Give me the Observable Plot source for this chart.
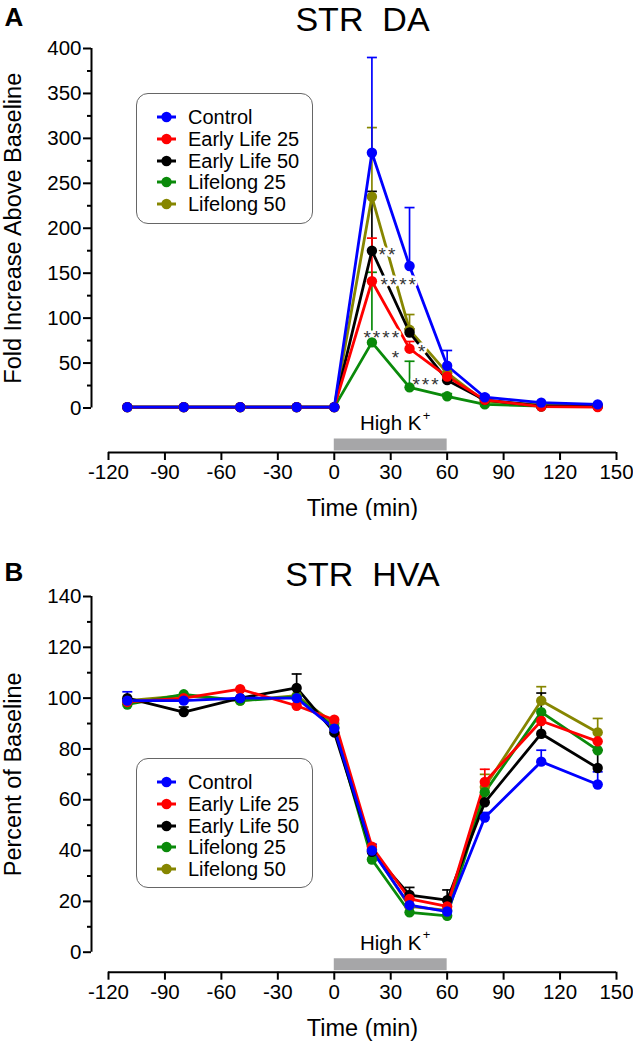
<!DOCTYPE html>
<html><head><meta charset="utf-8">
<script src="https://cdn.jsdelivr.net/npm/d3@7"></script>
<script src="https://cdn.jsdelivr.net/npm/@observablehq/plot@0.6"></script>
<style>
body{margin:0;background:#fff;font-family:"Liberation Sans",Arial,Helvetica,sans-serif;}
.panel{position:relative;width:633px;overflow:hidden;}
.legend{position:absolute;border:1.6px solid #666;border-radius:12px;box-sizing:border-box;background:#fff;}
.legend .item{position:absolute;left:0;height:22px;width:100%;font-size:20px;line-height:22px;color:#000;}
.legend .item svg{position:absolute;left:19px;top:5px;}
.legend .item span{position:absolute;left:51px;top:0;white-space:nowrap;}
</style></head><body>
<div id="chart"></div>
<script>
const times = [-110, -80, -50, -20, 0, 20, 40, 60, 80, 110, 140];
const groups = ["Control", "Early Life 25", "Early Life 50", "Lifelong 25", "Lifelong 50"];
const colors = ["#0000ff", "#ff0000", "#000000", "#0a8a0a", "#868600"];
const xTicks = [-120, -90, -60, -30, 0, 30, 60, 90, 120, 150];
const stimulus = [0, 60];
const stimulusLabel = "High K";

// Panel A: STR DA, fold increase above baseline
const daControl = [1, 1, 1, 1, 1, 284, 158, 47, 12, 6, 4];
const daEarly25 = [1, 1, 1, 1, 1, 141, 66, 35, 9, 1.5, 1];
const daEarly50 = [1, 1, 1, 1, 1, 175, 84, 31, 9, 2, 2];
const daLife25  = [1, 1, 1, 1, 1, 73, 23, 13, 4, 2, 2];
const daLife50  = [1, 1, 1, 1, 1, 235, 87, 39, 7, 4, 3];
const daErrControl = [0, 0, 0, 0, 0, 106, 65, 17, 2, 1, 1];
const daErrEarly25 = [0, 0, 0, 0, 0, 48, 8, 4, 1, 0, 0];
const daErrEarly50 = [0, 0, 0, 0, 0, 66, 4, 5, 1, 0, 0];
const daErrLife25  = [0, 0, 0, 0, 0, 78, 29, 3, 1, 0, 0];
const daErrLife50  = [0, 0, 0, 0, 0, 77, 17, 4, 1, 0, 0];
const daYTicks = [0, 50, 100, 150, 200, 250, 300, 350, 400];
const daYMinor = [25, 75, 125, 175, 225, 275, 325, 375];
const daStars = [
  {t: 28.5, v: 176, s: "**"},
  {t: 34.5, v: 142, s: "****"},
  {t: 25.5, v: 84, s: "****"},
  {t: 33, v: 61, s: "*"},
  {t: 47, v: 68, s: "*"},
  {t: 49, v: 31, s: "***"}
];

// Panel B: STR HVA, percent of baseline
const hvaControl = [99, 99, 100, 100, 88, 40, 18.5, 16, 53, 75, 66];
const hvaEarly25 = [98.5, 100, 103.5, 97, 91.5, 41.5, 21, 18, 67, 91, 83];
const hvaEarly50 = [100, 94.5, 100, 104, 86.5, 39.5, 22.5, 20.5, 59, 86, 72.5];
const hvaLife25  = [97.5, 101.5, 99, 100.5, 88.5, 36.5, 15.7, 14.3, 63, 94.5, 79.5];
const hvaLife50  = [99, 101, 99, 101, 90, 40.5, 18, 16.5, 65, 99, 86.5];
const hvaErrControl = [3.5, 1, 1, 1, 1, 2.5, 1, 1, 2, 4.5, 5];
const hvaErrEarly25 = [1, 1, 1, 1, 1, 1, 1, 1, 5, 1, 1];
const hvaErrEarly50 = [1, 2, 1, 5.5, 1, 1, 3, 4, 1, 16, 7];
const hvaErrLife25  = [1, 1, 1, 1, 1, 1, 1, 1, 1, 1, 1];
const hvaErrLife50  = [1, 1, 1, 1, 1, 1, 1, 1, 5, 5.5, 5.5];
const hvaYTicks = [0, 20, 40, 60, 80, 100, 120, 140];
const hvaYMinor = [10, 30, 50, 70, 90, 110, 130];

const FONT = '"Liberation Sans", Arial, Helvetica, sans-serif';
const capSymbol = {draw(ctx, size) { const r = Math.sqrt(size / Math.PI); ctx.moveTo(-r, 0); ctx.lineTo(r, 0); }};

function buildPanel(cfg) {
  const drawOrder = [4, 3, 2, 1, 0];
  const seriesMarks = [];
  for (const gi of drawOrder) {
    const rows = times.map((t, i) => ({t, v: cfg.values[gi][i], e: cfg.errs[gi][i]}));
    const errRows = rows.filter(d => d.e >= 1.5);
    seriesMarks.push(
      Plot.ruleX(errRows, {x: "t", y1: "v", y2: d => d.v + d.e, stroke: colors[gi], strokeWidth: 1.7}),
      Plot.dot(errRows, {x: "t", y: d => d.v + d.e, symbol: capSymbol, r: 5, stroke: colors[gi], strokeWidth: 1.7, fill: "none"})
    );
  }
  const lineMarks = [];
  const dotMarks = [];
  for (const gi of drawOrder) {
    const rows = times.map((t, i) => ({t, v: cfg.values[gi][i]}));
    lineMarks.push(Plot.line(rows, {x: "t", y: "v", stroke: colors[gi], strokeWidth: 2.8}));
    dotMarks.push(Plot.dot(rows, {x: "t", y: "v", fill: colors[gi], r: 5.2, stroke: "none"}));
  }
  const y0 = cfg.yDomain[0], y1 = cfg.yDomain[1];
  const plot = Plot.plot({
    width: 633, height: cfg.height,
    marginTop: cfg.marginTop, marginBottom: cfg.marginBottom, marginLeft: 108, marginRight: 17,
    x: {domain: [-120, 150]},
    y: {domain: cfg.yDomain},
    style: {fontFamily: FONT, color: "#000", background: "#fff", overflow: "visible"},
    marks: [
      Plot.ruleX([-120], {y1: () => y0, y2: () => y1, dx: -17, strokeWidth: 2, stroke: "#000"}),
      Plot.axisY(cfg.yTicks, {anchor: "left", tickSize: 8, tickPadding: 2, dx: -17, fontSize: 20.5, tickFormat: d => String(d), label: null, strokeWidth: 2}),
      Plot.axisY(cfg.yMinor, {anchor: "left", tickSize: 4, dx: -17, tickFormat: () => "", label: null, strokeWidth: 2}),
      Plot.ruleY([y0], {x1: () => -120, x2: () => 150, dy: cfg.xAxisDy, strokeWidth: 2, stroke: "#000"}),
      Plot.axisX(xTicks, {anchor: "bottom", tickSize: 8, tickPadding: 4, dy: cfg.xAxisDy, fontSize: 20.5, tickFormat: d => String(d), label: null, strokeWidth: 2}),
      Plot.ruleY([y0], {x1: () => stimulus[0], x2: () => stimulus[1], dy: cfg.xAxisDy - 8, strokeWidth: 12, stroke: "#a6a6a8"}),
      Plot.text([stimulusLabel], {x: () => (stimulus[0] + stimulus[1]) / 2, y: () => y0, dy: cfg.xAxisDy - 29, fontSize: 20.5}),
      Plot.text(["+"], {x: () => (stimulus[0] + stimulus[1]) / 2, y: () => y0, dx: 32, dy: cfg.xAxisDy - 37, fontSize: 13, textAnchor: "start"}),
      Plot.text(["Time (min)"], {frameAnchor: "bottom", lineAnchor: "middle", textAnchor: "middle", dy: cfg.xAxisDy + 56, fontSize: 23.5}),
      Plot.text([cfg.ylabel], {frameAnchor: "left", textAnchor: "middle", lineAnchor: "middle", dx: -95, rotate: -90, fontSize: 23.5}),
      Plot.text([cfg.title], {frameAnchor: "top", lineAnchor: "middle", textAnchor: "middle", dy: cfg.titleDy, fontSize: 34}),
      Plot.text([cfg.letter], {frameAnchor: "top-left", dx: -104, dy: cfg.letterDy, textAnchor: "start", lineAnchor: "middle", fontSize: 26, fontWeight: "bold"}),
      ...seriesMarks,
      ...lineMarks,
      Plot.text(cfg.stars || [], {x: "t", y: "v", text: "s", dy: 5, fontSize: 19, fill: "#333", stroke: "#fff", strokeWidth: 5, paintOrder: "stroke"}),
      ...dotMarks
    ]
  });
  d3.select(plot).selectAll("text").filter(function() { return /^\*+$/.test(this.textContent); }).style("letter-spacing", "2px");
  return plot;
}

function buildLegend(left, top, width, height) {
  const box = document.createElement("div");
  box.className = "legend";
  Object.assign(box.style, {left: left + "px", top: top + "px", width: width + "px", height: height + "px"});
  groups.forEach((g, i) => {
    const item = document.createElement("div");
    item.className = "item";
    item.style.top = (12 + i * 21.8) + "px";
    const svg = d3.create("svg").attr("width", 22).attr("height", 12);
    svg.append("line").attr("x1", 1).attr("x2", 20).attr("y1", 6).attr("y2", 6).attr("stroke", colors[i]).attr("stroke-width", 3);
    svg.append("circle").attr("cx", 10.5).attr("cy", 6).attr("r", 5.2).attr("fill", colors[i]);
    item.appendChild(svg.node());
    const span = document.createElement("span");
    span.textContent = g;
    item.appendChild(span);
    box.appendChild(item);
  });
  return box;
}

const chart = document.getElementById("chart");

const panelA = document.createElement("div");
panelA.className = "panel"; panelA.style.height = "520px";
panelA.appendChild(buildPanel({
  values: [daControl, daEarly25, daEarly50, daLife25, daLife50],
  errs: [daErrControl, daErrEarly25, daErrEarly50, daErrLife25, daErrLife50],
  yDomain: [0, 400], yTicks: daYTicks, yMinor: daYMinor,
  height: 520, marginTop: 48, marginBottom: 112.5, xAxisDy: 44.5,
  title: "STR\u00a0\u00a0DA", titleDy: -28.5, letter: "A", letterDy: -30.5,
  ylabel: "Fold Increase Above Baseline", stars: daStars
}));
panelA.appendChild(buildLegend(136, 93, 177, 131));
chart.appendChild(panelA);

const panelB = document.createElement("div");
panelB.className = "panel"; panelB.style.height = "531px";
panelB.appendChild(buildPanel({
  values: [hvaControl, hvaEarly25, hvaEarly50, hvaLife25, hvaLife50],
  errs: [hvaErrControl, hvaErrEarly25, hvaErrEarly50, hvaErrLife25, hvaErrLife50],
  yDomain: [0, 140], yTicks: hvaYTicks, yMinor: hvaYMinor,
  height: 531, marginTop: 76, marginBottom: 99.3, xAxisDy: 20,
  title: "STR\u00a0\u00a0HVA", titleDy: -21.1, letter: "B", letterDy: -23.6,
  ylabel: "Percent of Baseline", stars: []
}));
panelB.appendChild(buildLegend(136, 238, 177, 130));
chart.appendChild(panelB);
</script>
</body></html>
